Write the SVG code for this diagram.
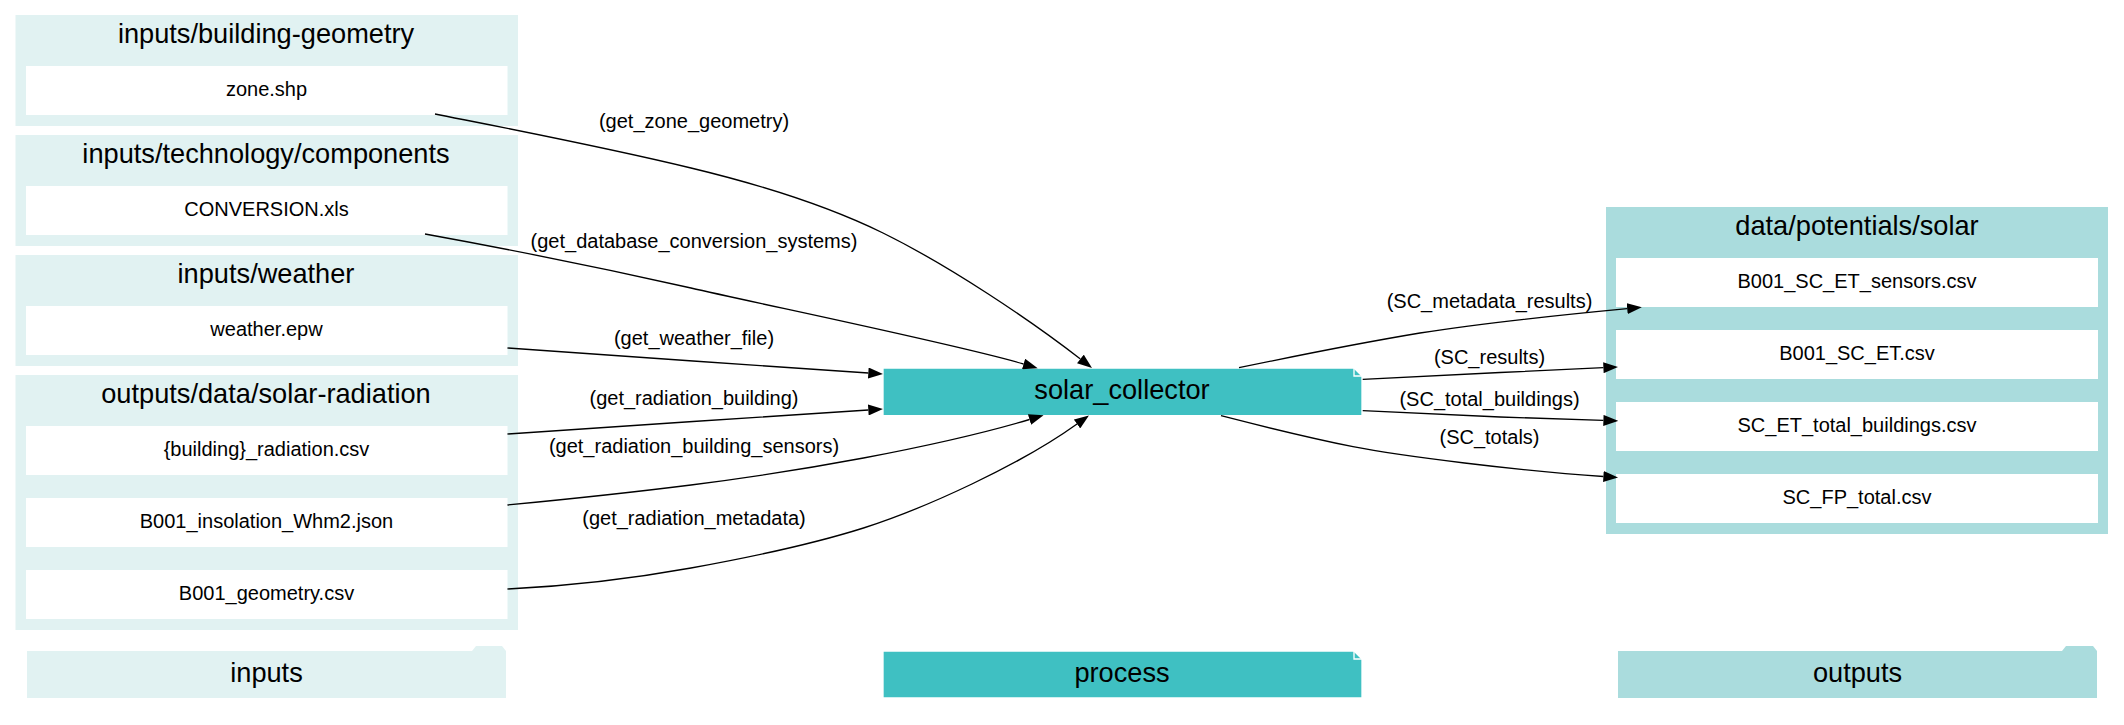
<svg xmlns="http://www.w3.org/2000/svg" width="2124" height="725" viewBox="0 0 2124 725">
<style>
text{font-family:"Liberation Sans",Arial,sans-serif;fill:#000;text-anchor:middle}
.t{font-size:27.2px}.n{font-size:20px}.e{font-size:20px}
.ci{fill:#e1f2f2}.co{fill:#aadcdd}.w{fill:#fff}
.edge{fill:none;stroke:#000;stroke-width:1.33;marker-end:url(#a)}
</style>
<defs><marker id="a" markerUnits="userSpaceOnUse" markerWidth="15" markerHeight="11" viewBox="0 0 14.7 11" refX="0" refY="5.5" orient="auto"><path d="M0,0L14.7,5.5L0,11z" fill="#000"/></marker></defs>
<rect width="2124" height="725" fill="#fff"/>
<g id="cluster-inputs-building-geometry"><rect class="ci" x="15.5" y="15" width="502.5" height="111"/><text class="t" x="266" y="42.5">inputs/building-geometry</text></g>
<g id="cluster-inputs-technology-components"><rect class="ci" x="15.5" y="135" width="502.5" height="111"/><text class="t" x="266" y="162.5">inputs/technology/components</text></g>
<g id="cluster-inputs-weather"><rect class="ci" x="15.5" y="255" width="502.5" height="111"/><text class="t" x="266" y="282.5">inputs/weather</text></g>
<g id="cluster-outputs-data-solar-radiation"><rect class="ci" x="15.5" y="375" width="502.5" height="255"/><text class="t" x="266" y="402.5">outputs/data/solar-radiation</text></g>
<g id="cluster-data-potentials-solar"><rect class="co" x="1606" y="207" width="502" height="327"/><text class="t" x="1857" y="234.5">data/potentials/solar</text></g>
<g id="node-zone"><rect class="w" x="26" y="66" width="481.5" height="49"/><text class="n" x="266.5" y="95.5">zone.shp</text></g>
<g id="node-conversion"><rect class="w" x="26" y="186" width="481.5" height="49"/><text class="n" x="266.5" y="215.5">CONVERSION.xls</text></g>
<g id="node-weather"><rect class="w" x="26" y="306" width="481.5" height="49"/><text class="n" x="266.5" y="335.5">weather.epw</text></g>
<g id="node-radiation"><rect class="w" x="26" y="426" width="481.5" height="49"/><text class="n" x="266.5" y="455.5">{building}_radiation.csv</text></g>
<g id="node-insolation"><rect class="w" x="26" y="498" width="481.5" height="49"/><text class="n" x="266.5" y="527.5">B001_insolation_Whm2.json</text></g>
<g id="node-geometry"><rect class="w" x="26" y="570" width="481.5" height="49"/><text class="n" x="266.5" y="599.5">B001_geometry.csv</text></g>
<g id="node-sensors"><rect class="w" x="1616" y="258" width="482" height="49"/><text class="n" x="1857" y="287.5">B001_SC_ET_sensors.csv</text></g>
<g id="node-sc-et"><rect class="w" x="1616" y="330" width="482" height="49"/><text class="n" x="1857" y="359.5">B001_SC_ET.csv</text></g>
<g id="node-sc-total-buildings"><rect class="w" x="1616" y="402" width="482" height="49"/><text class="n" x="1857" y="431.5">SC_ET_total_buildings.csv</text></g>
<g id="node-sc-fp"><rect class="w" x="1616" y="474" width="482" height="49"/><text class="n" x="1857" y="503.5">SC_FP_total.csv</text></g>
<g id="node-solar-collector"><path d="M883,415.7V368H1354L1362,376V415.7Z" fill="#3fc0c2" stroke="#fff" stroke-width="1.33"/><path d="M1354,368V376H1362" fill="none" stroke="#fff" stroke-width="1.33"/><text class="t" x="1122" y="399">solar_collector</text></g>
<g id="legend-inputs"><path class="ci" d="M27,651H472L476,646H502L506,651V698H27Z"/><text class="t" x="266.5" y="681.5">inputs</text></g>
<g id="legend-process"><path d="M883,698V651H1354L1362,659V698Z" fill="#3fc0c2" stroke="#fff" stroke-width="1.33"/><path d="M1354,651V659H1362" fill="none" stroke="#fff" stroke-width="1.33"/><text class="t" x="1122" y="681.5">process</text></g>
<g id="legend-outputs"><path class="co" d="M1618,651H2062L2066,646H2093L2097,651V698H1618Z"/><text class="t" x="1857.5" y="681.5">outputs</text></g>
<g id="connectors">
<path class="edge" d="M435,114C490,125 600,146 691,168C770,187 830,207 883,233C950,266 1030,320 1080.4,359"/>
<path class="edge" d="M425,234C480,244 580,263 691,288C760,304 960,345 1023.6,364"/>
<path class="edge" d="M507.5,348L693,361L868.3,373"/>
<path class="edge" d="M507.5,434L693,421.5L868.3,410"/>
<path class="edge" d="M507.5,505C570,499 640,491.4 691,485C750,477.6 810,468 863.5,458C920,447.3 975,435.8 1029.5,419.5"/>
<path class="edge" d="M507.5,589C570,586 630,579 691,568C748,557.7 806.5,546 863.5,528C925,508.3 1020,465 1077,424"/>
<path class="edge" d="M1239,367.7C1300,355 1360,343 1420,333C1490,322 1560,315 1627.2,308.6"/>
<path class="edge" d="M1362.7,379.3L1500,372.5L1603.4,367.7"/>
<path class="edge" d="M1362.7,410.7L1500,417L1603.4,420.4"/>
<path class="edge" d="M1221,415.7C1265,427 1310,438 1353,446.7C1400,456 1520,471 1603.4,476.5"/>
<text class="e" x="694" y="128">(get_zone_geometry)</text>
<text class="e" x="694" y="248">(get_database_conversion_systems)</text>
<text class="e" x="694" y="345">(get_weather_file)</text>
<text class="e" x="694" y="405">(get_radiation_building)</text>
<text class="e" x="694" y="453">(get_radiation_building_sensors)</text>
<text class="e" x="694" y="524.5">(get_radiation_metadata)</text>
<text class="e" x="1489.5" y="307.5">(SC_metadata_results)</text>
<text class="e" x="1489.5" y="364">(SC_results)</text>
<text class="e" x="1489.5" y="406">(SC_total_buildings)</text>
<text class="e" x="1489.5" y="443.5">(SC_totals)</text>
</g>
</svg>
